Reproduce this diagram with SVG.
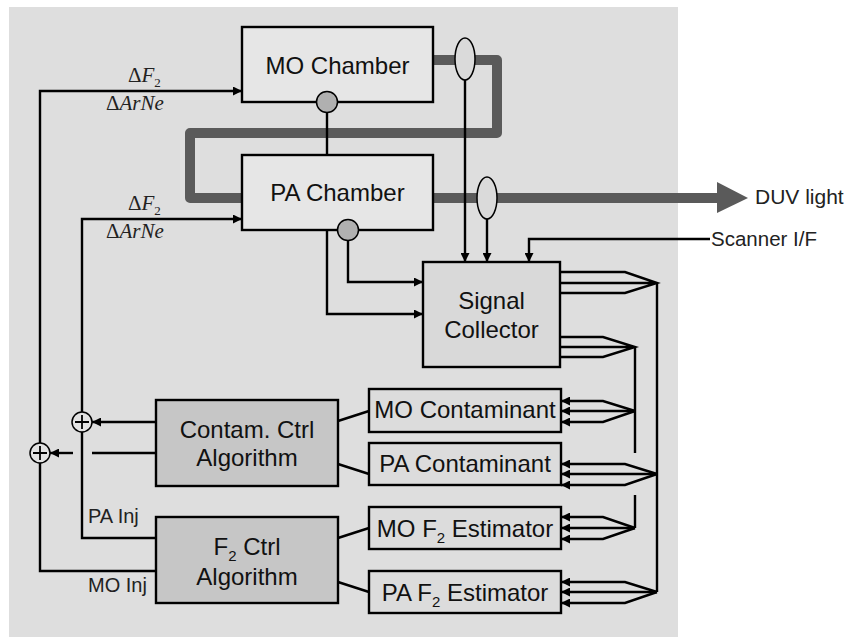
<svg xmlns="http://www.w3.org/2000/svg" width="846" height="642" viewBox="0 0 846 642">
<defs>
<style>
.box{stroke:#000;stroke-width:2.4}
.ch{fill:#e6e6e6}
.sc{fill:#d9d9d9}
.est{fill:#dcdcdc}
.alg{fill:#c6c6c6}
.lbl{font-family:"Liberation Sans",Arial,sans-serif;font-size:24px;text-anchor:middle;fill:#111}
.sm{font-family:"Liberation Sans",Arial,sans-serif;font-size:20px;fill:#222}
.math{font-family:"Liberation Serif","Times New Roman",serif;font-style:italic;font-size:21px;fill:#222}
.ln{fill:none;stroke:#000;stroke-width:2.4}
.ar{fill:none;stroke:#000;stroke-width:2.4;marker-end:url(#ah)}
.beam{fill:none;stroke:#5a5a5a;stroke-width:10;stroke-linejoin:round}
.dot{fill:#b0b0b0;stroke:#000;stroke-width:1.5}
.ell{fill:#dadada;stroke:#000;stroke-width:1.5}
.plus{fill:#e2e2e2;stroke:#000;stroke-width:1.5}
</style>
<marker id="ah" viewBox="0 0 10 10" refX="10" refY="5" markerWidth="10" markerHeight="9" markerUnits="userSpaceOnUse" orient="auto">
<path d="M0,0 L10,5 L0,10 z" fill="#000"/>
</marker>
</defs>
<rect x="9" y="7" width="669" height="630" fill="#dedede"/>

<g id="beams">
<path class="beam" d="M433,60 H497 V133 H190 V198 H242"/>
<path class="beam" d="M433,198 H718"/>
<polygon points="717,182 748,198 717,213" fill="#5a5a5a"/>
</g>

<g id="connectors">
<line class="ln" x1="327" y1="112" x2="327" y2="155"/>
<path class="ar" d="M40,443 V91 H242"/>
<path class="ar" d="M82,412 V219 H242"/>
<path class="ln" d="M40,463 V571 H156"/>
<path class="ln" d="M82,432 V538 H156"/>
<path class="ar" d="M156,422 H92"/>
<path class="ln" d="M156,453 H92"/>
<path class="ar" d="M73,453 H50"/>
<path class="ar" d="M348,240 V282 H423"/>
<path class="ar" d="M327,230 V314 H423"/>
<path class="ar" d="M465,80 V262"/>
<path class="ar" d="M487,219 V262"/>
<path class="ar" d="M710,239 H529 V262"/>
<path class="ln" d="M560,272 H625 L657,283 L625,293 H560 M560,283 H657"/>
<path class="ln" d="M560,337 H603 L635,347 L603,357 H560 M560,347 H635"/>
<path class="ln" d="M657,283 V592"/>
<path class="ln" d="M635,347 V453 M635,495 V528"/>
<path class="ar" d="M635,411 L603,401 H561"/>
<path class="ar" d="M635,411 H561"/>
<path class="ar" d="M635,411 L603,422 H561"/>
<path class="ar" d="M657,474 L625,464 H561"/>
<path class="ar" d="M657,474 H561"/>
<path class="ar" d="M657,474 L625,485 H561"/>
<path class="ar" d="M635,528 L603,517 H561"/>
<path class="ar" d="M635,528 H561"/>
<path class="ar" d="M635,528 L603,539 H561"/>
<path class="ar" d="M657,592 L625,582 H561"/>
<path class="ar" d="M657,592 H561"/>
<path class="ar" d="M657,592 L625,603 H561"/>
<line class="ln" x1="338" y1="421" x2="369" y2="411"/>
<line class="ln" x1="338" y1="464" x2="369" y2="474"/>
<line class="ln" x1="338" y1="538" x2="369" y2="528"/>
<line class="ln" x1="338" y1="582" x2="369" y2="592"/>
</g>

<g id="mo-chamber">
<rect class="box ch" x="242" y="27" width="191" height="75"/>
<text class="lbl" x="337.5" y="74">MO Chamber</text>
<circle class="dot" cx="327" cy="102" r="10.5"/>
</g>

<g id="pa-chamber">
<rect class="box ch" x="242" y="155" width="191" height="75"/>
<text class="lbl" x="337.5" y="201">PA Chamber</text>
<circle class="dot" cx="348" cy="230" r="10.5"/>
</g>

<g id="probe-mo"><ellipse class="ell" cx="465" cy="59" rx="10" ry="21"/></g>
<g id="probe-pa"><ellipse class="ell" cx="487" cy="198" rx="10" ry="21"/></g>

<g id="signal-collector">
<rect class="box sc" x="423" y="262" width="137" height="105"/>
<text class="lbl" x="491.5" y="309">Signal</text>
<text class="lbl" x="491.5" y="338">Collector</text>
</g>

<g id="mo-contaminant">
<rect class="box est" x="369" y="389" width="192" height="43"/>
<text class="lbl" x="465" y="418">MO Contaminant</text>
</g>
<g id="pa-contaminant">
<rect class="box est" x="369" y="443" width="192" height="42"/>
<text class="lbl" x="465" y="472">PA Contaminant</text>
</g>
<g id="mo-f2-estimator">
<rect class="box est" x="369" y="507" width="192" height="42"/>
<text class="lbl" x="465" y="537">MO F<tspan font-size="15" dy="6">2</tspan><tspan dy="-6"> Estimator</tspan></text>
</g>
<g id="pa-f2-estimator">
<rect class="box est" x="369" y="571" width="192" height="42"/>
<text class="lbl" x="465" y="601">PA F<tspan font-size="15" dy="6">2</tspan><tspan dy="-6"> Estimator</tspan></text>
</g>

<g id="contam-ctrl">
<rect class="box alg" x="156" y="400" width="182" height="86"/>
<text class="lbl" x="247" y="438">Contam. Ctrl</text>
<text class="lbl" x="247" y="466">Algorithm</text>
</g>
<g id="f2-ctrl">
<rect class="box alg" x="156" y="517" width="182" height="86"/>
<text class="lbl" x="247" y="555">F<tspan font-size="15" dy="6">2</tspan><tspan dy="-6"> Ctrl</tspan></text>
<text class="lbl" x="247" y="585">Algorithm</text>
</g>

<g id="sum-pa">
<circle class="plus" cx="82" cy="422" r="10"/>
<path class="ln" d="M75,422 H89 M82,415 V429" style="stroke-width:1.8"/>
</g>
<g id="sum-mo">
<circle class="plus" cx="40" cy="453" r="10"/>
<path class="ln" d="M33,453 H47 M40,446 V460" style="stroke-width:1.8"/>
</g>

<g id="labels">
<text class="math" x="128" y="82"><tspan font-style="normal">Δ</tspan>F<tspan font-style="normal" font-size="13" dy="5">2</tspan></text>
<text class="math" x="106" y="110"><tspan font-style="normal">Δ</tspan>ArNe</text>
<text class="math" x="128" y="210"><tspan font-style="normal">Δ</tspan>F<tspan font-style="normal" font-size="13" dy="5">2</tspan></text>
<text class="math" x="106" y="238"><tspan font-style="normal">Δ</tspan>ArNe</text>
<text class="sm" x="88" y="523">PA Inj</text>
<text class="sm" x="88" y="592">MO Inj</text>
<text class="sm" x="755" y="204" style="font-size:21px">DUV light</text>
<text class="sm" x="711" y="246" style="font-size:20.5px">Scanner I/F</text>
</g>
</svg>
